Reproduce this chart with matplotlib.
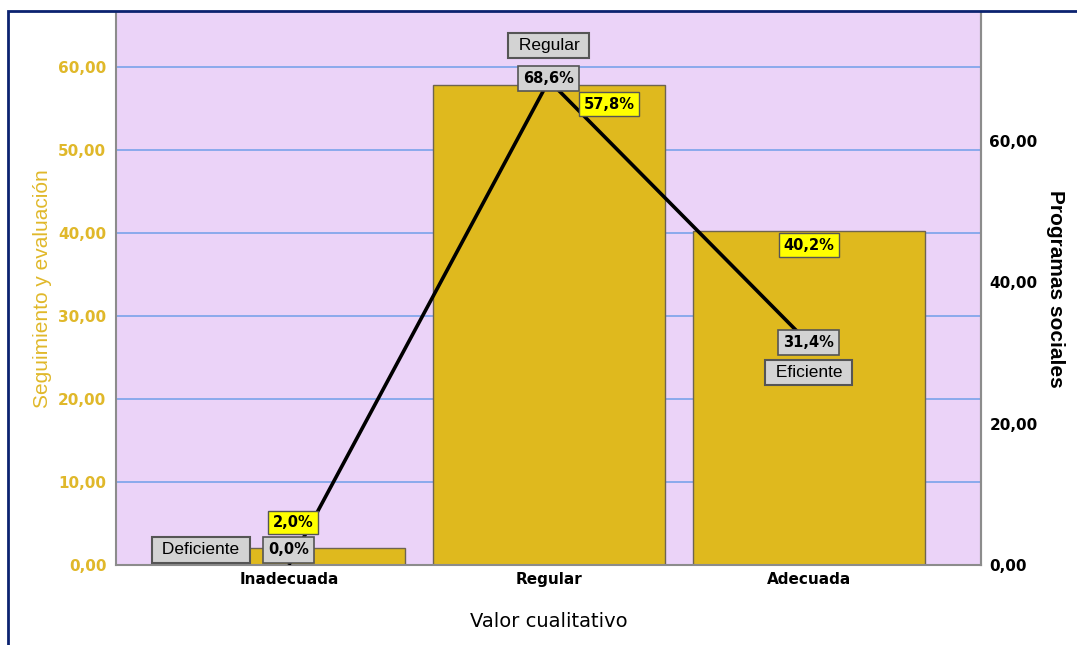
import matplotlib
matplotlib.use("Agg")
import matplotlib.pyplot as plt
from matplotlib.patches import Rectangle

categories = ["Inadecuada", "Regular", "Adecuada"]
bar_values = [2.0, 57.8, 40.2]          # Seguimiento y evaluación (%)
line_values = [0.0, 68.6, 31.4]         # Programas sociales (%)
line_names = ["Deficiente", "Regular", "Eficiente"]
left_ticks = [0, 10, 20, 30, 40, 50, 60]
right_ticks = [0, 20, 40, 60]

NARROW = ["Liberation Sans Narrow", "DejaVu Sans"]
SANS = ["Liberation Sans", "DejaVu Sans"]
GOLD = "#E0B82A"
BAR = "#DFB91E"
BG = "#EBD3F8"
GRID = "#7AA2EA"

W, H = 1077, 645
fig = plt.figure(figsize=(W / 100, H / 100), dpi=100)
fig.patch.set_facecolor("white")

# outer frame
fig.patches.append(Rectangle((8 / W, -0.2), 1.2, 1 - 11 / H + 0.2, transform=fig.transFigure,
                             fill=False, edgecolor="#0B2270", linewidth=2.0, zorder=0))

ax = fig.add_axes([116 / W, 1 - 565 / H, (981 - 116) / W, (565 - 12) / H])
ax.set_facecolor(BG)
x = list(range(len(categories)))
ax.bar(x, bar_values, width=0.89, color=BAR, edgecolor="#6E6450", linewidth=1.0, zorder=2)
ax.set_xlim(-0.665, 2.662)
ax.set_ylim(0, 66.6)
ax.set_yticks(left_ticks)
ax.set_yticklabels([f"{v:.2f}".replace(".", ",") for v in left_ticks],
                   color=GOLD, fontweight="bold", fontsize=11, family=NARROW)
ax.set_xticks(x)
ax.set_xticklabels(categories, fontweight="bold", fontsize=11, family=NARROW)
ax.tick_params(axis="both", length=0)
ax.tick_params(axis="y", pad=7)
ax.tick_params(axis="x", pad=5)
ax.set_axisbelow(True)
ax.yaxis.grid(True, color=GRID, linewidth=1.2)
ax.spines["top"].set_visible(False)
for s in ["left", "right", "bottom"]:
    ax.spines[s].set_color("#8C8C8C")
    ax.spines[s].set_linewidth(1.5)
ax.set_ylabel("Seguimiento y evaluación", color=GOLD, fontsize=15, family=SANS, labelpad=4)
ax.set_xlabel("Valor cualitativo", fontsize=14, family=NARROW, labelpad=18)

ax2 = ax.twinx()
ax2.set_ylim(0, 78.3)
ax2.set_yticks(right_ticks)
ax2.set_yticklabels([f"{v:.2f}".replace(".", ",") for v in right_ticks],
                    fontweight="bold", fontsize=11, family=NARROW, color="black")
ax2.tick_params(axis="y", length=0, pad=6)
ax2.spines["top"].set_visible(False)
ax2.spines["right"].set_color("#8C8C8C")
ax2.spines["right"].set_linewidth(1.5)
ax2.spines["left"].set_visible(False)
ax2.spines["bottom"].set_visible(False)
ax2.set_ylabel("Programas sociales", fontsize=15, fontweight="bold", family=SANS,
               rotation=270, labelpad=20)
ax2.plot(x, line_values, color="black", linewidth=2.6, zorder=3, solid_capstyle="butt")

grey_box = dict(boxstyle="square,pad=0.35", facecolor="#D3D3D3", edgecolor="#555555", linewidth=1.2)
yellow_box = dict(boxstyle="square,pad=0.3", facecolor="#FFFF00", edgecolor="#555555", linewidth=1.0)
name_box = dict(boxstyle="square,pad=0.3", facecolor="#D3D3D3", edgecolor="#555555", linewidth=1.5)

# bar value labels (offsets in pixels)
bar_offsets = [(4, 26), (60, -19), (0, -14)]
for xi, v, off in zip(x, bar_values, bar_offsets):
    ax2.annotate(f"{v:.1f}%".replace(".", ","), xy=(xi, v), xycoords=ax.transData,
                 xytext=off, textcoords="offset pixels", ha="center", va="center",
                 fontsize=10.5, fontweight="bold", family=NARROW, bbox=yellow_box, zorder=5)

# line value labels
line_offsets = [(0, 15), (0, 2), (0, 1)]
for xi, v, off in zip(x, line_values, line_offsets):
    ax2.annotate(f"{v:.1f}%".replace(".", ","), xy=(xi, v), xytext=off,
                 textcoords="offset pixels", ha="center", va="center",
                 fontsize=10.5, fontweight="bold", family=NARROW, bbox=grey_box, zorder=6)

# line category names
name_offsets = [(-88, 15), (0, 35), (0, -29)]
for xi, v, name, off in zip(x, line_values, line_names, name_offsets):
    ax2.annotate(f" {name} ", xy=(xi, v), xytext=off, textcoords="offset pixels",
                 ha="center", va="center", fontsize=12.5, family=SANS,
                 bbox=name_box, zorder=6)

fig.savefig("out.png", dpi=100)
